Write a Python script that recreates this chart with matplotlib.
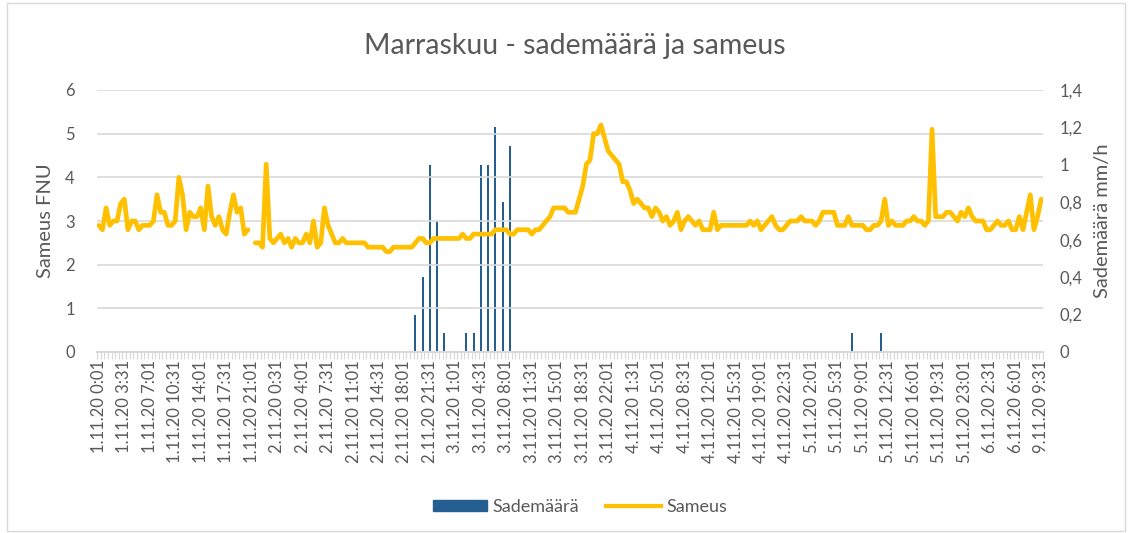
import numpy as np
import matplotlib.pyplot as plt
from matplotlib.patches import Patch, Rectangle
from matplotlib.lines import Line2D
from matplotlib.ticker import FuncFormatter

plt.rcParams['font.family'] = ['Lato', 'DejaVu Sans']

# Sameus (FNU), one value per 30 min category; nan = missing measurement
sameus = [
    2.9, 2.8, 3.3, 2.9, 3.0, 3.0, 3.4, 3.5, 2.8, 3.0,
    3.0, 2.8, 2.9, 2.9, 2.9, 3.0, 3.6, 3.2, 3.2, 2.9,
    2.9, 3.0, 4.0, 3.6, 2.8, 3.2, 3.1, 3.1, 3.3, 2.8,
    3.8, 3.1, 2.9, 3.1, 2.8, 2.7, 3.2, 3.6, 3.2, 3.3,
    2.7, 2.8, np.nan, 2.5, 2.5, 2.4, 4.3, 2.6, 2.5, 2.6,
    2.7, 2.5, 2.6, 2.4, 2.6, 2.5, 2.5, 2.7, 2.5, 3.0,
    2.4, 2.5, 3.3, 2.9, 2.7, 2.5, 2.5, 2.6, 2.5, 2.5,
    2.5, 2.5, 2.5, 2.5, 2.4, 2.4, 2.4, 2.4, 2.4, 2.3,
    2.3, 2.4, 2.4, 2.4, 2.4, 2.4, 2.4, 2.5, 2.6, 2.6,
    2.5, 2.5, 2.6, 2.6, 2.6, 2.6, 2.6, 2.6, 2.6, 2.6,
    2.7, 2.6, 2.6, 2.7, 2.7, 2.7, 2.7, 2.7, 2.7, 2.8,
    2.8, 2.8, 2.8, 2.7, 2.7, 2.8, 2.8, 2.8, 2.8, 2.7,
    2.8, 2.8, 2.9, 3.0, 3.1, 3.3, 3.3, 3.3, 3.3, 3.2,
    3.2, 3.2, 3.5, 3.8, 4.3, 4.4, 5.0, 5.0, 5.2, 4.9,
    4.6, 4.5, 4.4, 4.3, 3.9, 3.9, 3.7, 3.4, 3.5, 3.4,
    3.3, 3.3, 3.1, 3.3, 3.2, 3.0, 3.1, 2.9, 3.0, 3.2,
    2.8, 3.0, 3.1, 3.0, 2.9, 3.0, 2.8, 2.8, 2.8, 3.2,
    2.8, 2.9, 2.9, 2.9, 2.9, 2.9, 2.9, 2.9, 2.9, 3.0,
    2.9, 3.0, 2.8, 2.9, 3.0, 3.1, 2.9, 2.8, 2.8, 2.9,
    3.0, 3.0, 3.0, 3.1, 3.0, 3.0, 3.0, 2.9, 3.0, 3.2,
    3.2, 3.2, 3.2, 2.9, 2.9, 2.9, 3.1, 2.9, 2.9, 2.9,
    2.9, 2.8, 2.8, 2.9, 2.9, 3.0, 3.5, 2.9, 3.0, 2.9,
    2.9, 2.9, 3.0, 3.0, 3.1, 3.0, 3.0, 2.9, 3.0, 5.1,
    3.1, 3.1, 3.1, 3.2, 3.2, 3.1, 3.0, 3.2, 3.1, 3.3,
    3.1, 3.0, 3.0, 3.0, 2.8, 2.8, 2.9, 3.0, 2.9, 2.9,
    3.0, 2.8, 2.8, 3.1, 2.8, 3.2, 3.6, 2.8, 3.1, 3.5,
]

# Sademäärä (mm/h): category index -> value, all other categories are 0
sade_idx = [87, 89, 91, 93, 95, 101, 103, 105, 107, 109, 111, 113, 207, 215]
sade_val = [0.2, 0.4, 1.0, 0.7, 0.1, 0.1, 0.1, 1.0, 1.0, 1.2, 0.8, 1.1, 0.1, 0.1]

tick_labels = [
    "1.11.20 0:01", "1.11.20 3:31", "1.11.20 7:01", "1.11.20 10:31", "1.11.20 14:01",
    "1.11.20 17:31", "1.11.20 21:01", "2.11.20 0:31", "2.11.20 4:01", "2.11.20 7:31",
    "2.11.20 11:01", "2.11.20 14:31", "2.11.20 18:01", "2.11.20 21:31", "3.11.20 1:01",
    "3.11.20 4:31", "3.11.20 8:01", "3.11.20 11:31", "3.11.20 15:01", "3.11.20 18:31",
    "3.11.20 22:01", "4.11.20 1:31", "4.11.20 5:01", "4.11.20 8:31", "4.11.20 12:01",
    "4.11.20 15:31", "4.11.20 19:01", "4.11.20 22:31", "5.11.20 2:01", "5.11.20 5:31",
    "5.11.20 9:01", "5.11.20 12:31", "5.11.20 16:01", "5.11.20 19:31", "5.11.20 23:01",
    "6.11.20 2:31", "6.11.20 6:01", "9.11.20 9:31",
]

n = len(sameus)
x = np.arange(n)
sade = np.zeros(n)
sade[sade_idx] = sade_val

txt = '#595959'
grid = '#D9D9D9'
blue = '#255E91'
gold = '#FFC000'

W, H = 1132, 533
fig = plt.figure(figsize=(W / 100, H / 100), dpi=100)
ax = fig.add_axes([97 / W, 1 - 352 / H, (1043 - 97) / W, (352 - 90) / H])
ax2 = ax.twinx()

ax2.bar(x, sade, width=0.55, color=blue, zorder=2)
ax.plot(x, sameus, color=gold, lw=3.4, solid_joinstyle='round', solid_capstyle='round', zorder=3)

ax.set_zorder(ax2.get_zorder() + 1)
ax.patch.set_visible(False)

ax.set_xlim(-0.5, n - 0.5)
ax.set_ylim(0, 6)
ax2.set_ylim(0, 1.4)
ax.set_yticks(range(0, 7))
ax2.set_yticks(np.arange(0, 1.41, 0.2))
ax2.yaxis.set_major_formatter(FuncFormatter(lambda v, p: f"{v:g}".replace('.', ',')))

ax.yaxis.grid(True, color=grid, lw=1.2)
ax.set_axisbelow(True)

ax.set_xticks(x[::7])
ax.set_xticklabels(tick_labels, rotation=90, fontsize=12, color=txt)
ax.set_xticks(np.arange(-0.5, n, 1), minor=True)
ax.tick_params(axis='x', which='major', length=0, pad=6)
ax.tick_params(axis='x', which='minor', length=5, color=grid, width=0.8)
ax.tick_params(axis='y', length=0, labelsize=12, labelcolor=txt, pad=16)
ax2.tick_params(axis='y', length=0, labelsize=12, labelcolor=txt, pad=12)

for a in (ax, ax2):
    for s in a.spines.values():
        s.set_visible(False)
ax.spines['bottom'].set_visible(True)
ax.spines['bottom'].set_color(grid)
ax.spines['bottom'].set_linewidth(1.5)

ax.set_ylabel("Sameus FNU", fontsize=14.5, color=txt, labelpad=8)
ax2.set_ylabel("Sademäärä mm/h", fontsize=14.5, color=txt, labelpad=8)

fig.text(575 / W, 1 - 46 / H, "Marraskuu - sademäärä ja sameus", ha='center', va='center',
         fontsize=20.5, color=txt)

handles = [Patch(color=blue, label="Sademäärä"),
           Line2D([], [], color=gold, lw=3, label="Sameus")]
fig.legend(handles=handles, loc='center', bbox_to_anchor=(580 / W, 1 - 507 / H), ncol=2,
           frameon=False, fontsize=13, labelcolor=txt, handlelength=3, handleheight=0.5,
           columnspacing=1.5, handletextpad=0.3)

fig.patches.append(Rectangle((7 / W, 2 / H), 1118 / W, 528 / H, transform=fig.transFigure,
                             fill=False, ec=grid, lw=1))

fig.savefig("out.png", dpi=100, facecolor='white')
